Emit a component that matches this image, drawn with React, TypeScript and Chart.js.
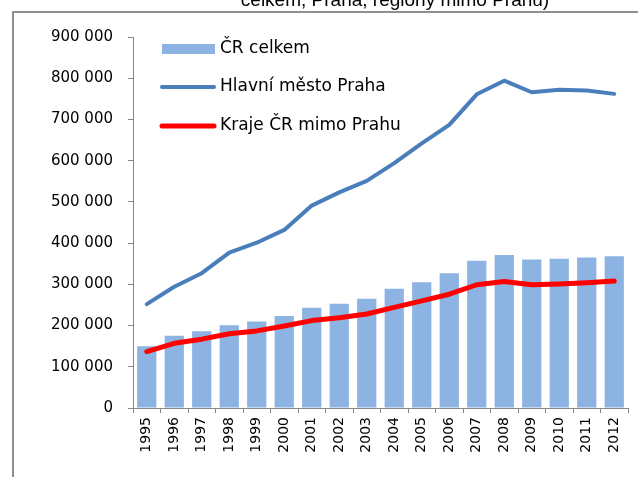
import React, { useEffect, useRef } from "react";
import { Chart, registerables } from "chart.js";

Chart.register(...registerables);

const years = ["1995","1996","1997","1998","1999","2000","2001","2002","2003","2004","2005","2006","2007","2008","2009","2010","2011","2012"];
const crCelkem = [150000,175000,186000,201000,210000,223000,243000,253000,265000,289000,305000,327000,357000,371000,360000,362000,365000,368000];
const praha = [252000,294000,327000,377000,401000,432000,491000,523000,551000,594000,642000,687000,761000,794000,766000,772000,770000,762000];
const kraje = [137000,157000,167000,180000,187000,199000,212000,219000,228000,244000,260000,276000,299000,307000,299000,301000,304000,308000];
const seriesNames = ["ČR celkem", "Hlavní město Praha", "Kraje ČR mimo Prahu"];
const titleText = "celkem, Praha, regiony mimo Prahu)";

const BAR = "#8DB3E2";
const BLUE = "#4A7EBB";
const RED = "#FF0000";

const fmt = (v: number) => String(v).replace(/\B(?=(\d{3})+(?!\d))/g, " ");

const decor = {
  id: "decor",
  beforeDraw(chart: any) {
    const ctx = chart.ctx;
    ctx.save();
    ctx.fillStyle = "#fff";
    ctx.fillRect(0, 0, chart.width, chart.height);
    ctx.strokeStyle = "#8f8f8f";
    ctx.lineWidth = 2;
    ctx.beginPath();
    ctx.moveTo(13, chart.height);
    ctx.lineTo(13, 12);
    ctx.lineTo(chart.width, 12);
    ctx.stroke();
    ctx.fillStyle = "#000";
    ctx.font = "19px 'Liberation Sans', Arial, sans-serif";
    ctx.textAlign = "center";
    ctx.textBaseline = "alphabetic";
    ctx.fillText(titleText, 395, 6);
    ctx.restore();
  },
  afterDatasetsDraw(chart: any) {
    const ctx = chart.ctx;
    ctx.save();
    ctx.font = "17px 'DejaVu Sans', sans-serif";
    ctx.fillStyle = "#000";
    ctx.textAlign = "left";
    ctx.textBaseline = "middle";
    // bar swatch
    ctx.fillStyle = BAR;
    ctx.fillRect(162, 44, 53, 10);
    ctx.fillStyle = "#000";
    ctx.fillText(seriesNames[0], 220, 49);
    ctx.lineCap = "round";
    ctx.strokeStyle = BLUE;
    ctx.lineWidth = 4;
    ctx.beginPath();
    ctx.moveTo(162, 87);
    ctx.lineTo(214, 87);
    ctx.stroke();
    ctx.fillText(seriesNames[1], 220, 87);
    ctx.strokeStyle = RED;
    ctx.lineWidth = 5;
    ctx.beginPath();
    ctx.moveTo(162, 126);
    ctx.lineTo(214, 126);
    ctx.stroke();
    ctx.fillText(seriesNames[2], 220, 126);
    ctx.restore();
  },
};

export default function App() {
  const ref = useRef<HTMLCanvasElement | null>(null);
  useEffect(() => {
    document.body.style.margin = "0";
    const canvas = ref.current!;
    const chart = new Chart(canvas, {
      type: "bar",
      data: {
        labels: years,
        datasets: [
          {
            type: "line",
            label: seriesNames[2],
            data: kraje,
            borderColor: RED,
            borderWidth: 5,
            pointRadius: 0,
            tension: 0,
            borderCapStyle: "round",
            borderJoinStyle: "round",
            order: 0,
          } as any,
          {
            type: "line",
            label: seriesNames[1],
            data: praha,
            borderColor: BLUE,
            borderWidth: 4,
            pointRadius: 0,
            tension: 0,
            borderCapStyle: "round",
            borderJoinStyle: "round",
            order: 1,
          } as any,
          {
            type: "bar",
            label: seriesNames[0],
            data: crCelkem,
            backgroundColor: BAR,
            categoryPercentage: 1,
            barPercentage: 0.7,
            order: 2,
          },
        ],
      },
      options: {
        responsive: false,
        animation: false,
        layout: { padding: { top: 37, right: 10, left: 0, bottom: 0 } },
        plugins: { legend: { display: false }, tooltip: { enabled: false }, title: { display: false } },
        scales: {
          x: {
            grid: { drawOnChartArea: false, tickLength: 5, color: "#868686", offset: true },
            border: { color: "#868686" },
            ticks: {
              minRotation: 90,
              maxRotation: 90,
              padding: 4,
              color: "#000",
              font: { family: "'DejaVu Sans', sans-serif", size: 14 },
              autoSkip: false,
            },
            afterFit: (s: any) => { s.height = 69; },
          },
          y: {
            min: 0,
            max: 900000,
            grid: { drawOnChartArea: false, tickLength: 5, color: "#868686" },
            border: { color: "#868686" },
            ticks: {
              stepSize: 100000,
              padding: 15,
              color: "#000",
              font: { family: "'DejaVu Sans', sans-serif", size: 15 },
              callback: (v: any) => fmt(Number(v)),
            },
            afterFit: (s: any) => { s.width = 133; },
          },
        },
      },
      plugins: [decor],
    });
    return () => chart.destroy();
  }, []);
  return (
    <div style={{ width: 638, height: 477 }}>
      <canvas ref={ref} width={638} height={477} style={{ display: "block" }} />
    </div>
  );
}
